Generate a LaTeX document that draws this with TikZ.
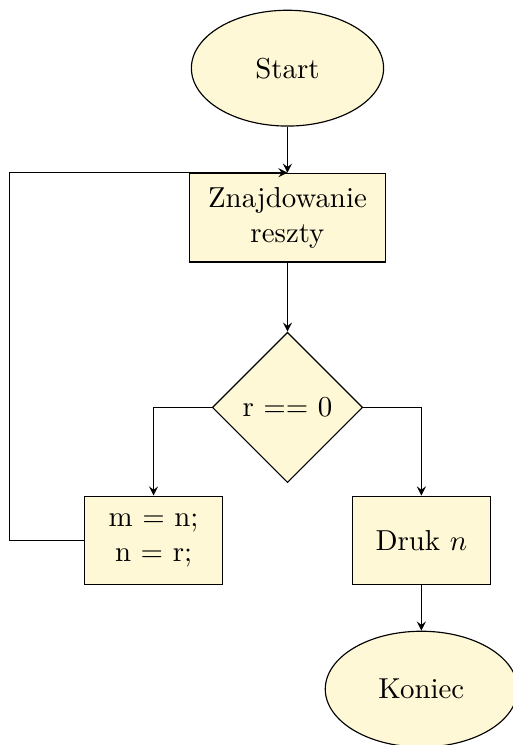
\documentclass[tikz,border=0pt]{standalone}
\usetikzlibrary{shapes.geometric}
\definecolor{blockfill}{RGB}{255,248,214}
\begin{document}
\begin{tikzpicture}
  \useasboundingbox (-3.50,0.83) rectangle (2.74,-8.24);
  \begin{scope}[
    every node/.style={draw, fill=blockfill, align=center},
    term/.style={ellipse, minimum width=2.34cm, minimum height=1.41cm},
    block/.style={rectangle, minimum width=1.68cm, minimum height=1.08cm},
    decision/.style={diamond, aspect=1, minimum width=1.83cm, minimum height=1.83cm},
    line/.style={-stealth},
    ]
    \node[term] (start) at (0,0) {Start};
    \node[block, minimum width=2.38cm] (rest) at (0,-1.82) {Znajdowanie\\reszty};
    \node[decision] (check) at (0,-4.13) {r == 0};
    \node[block] (swap) at (-1.63,-5.75) {m = n;\\n = r;};
    \node[block] (print) at (1.63,-5.75) {Druk $n$};
    \node[term] (stop) at (1.63,-7.56) {Koniec};
    \coordinate (back) at (-3.38,0);

    \draw[line] (start) -- (rest);
    \draw[line] (rest) -- (check);
    \draw[line] (check.west) -| (swap.north);
    \draw[line] (check.east) -| (print.north);
    \draw[line] (print) -- (stop);
    \draw[line] (swap.west) -- (back |- swap.west) |- (rest.north);
  \end{scope}
\end{tikzpicture}
\end{document}
